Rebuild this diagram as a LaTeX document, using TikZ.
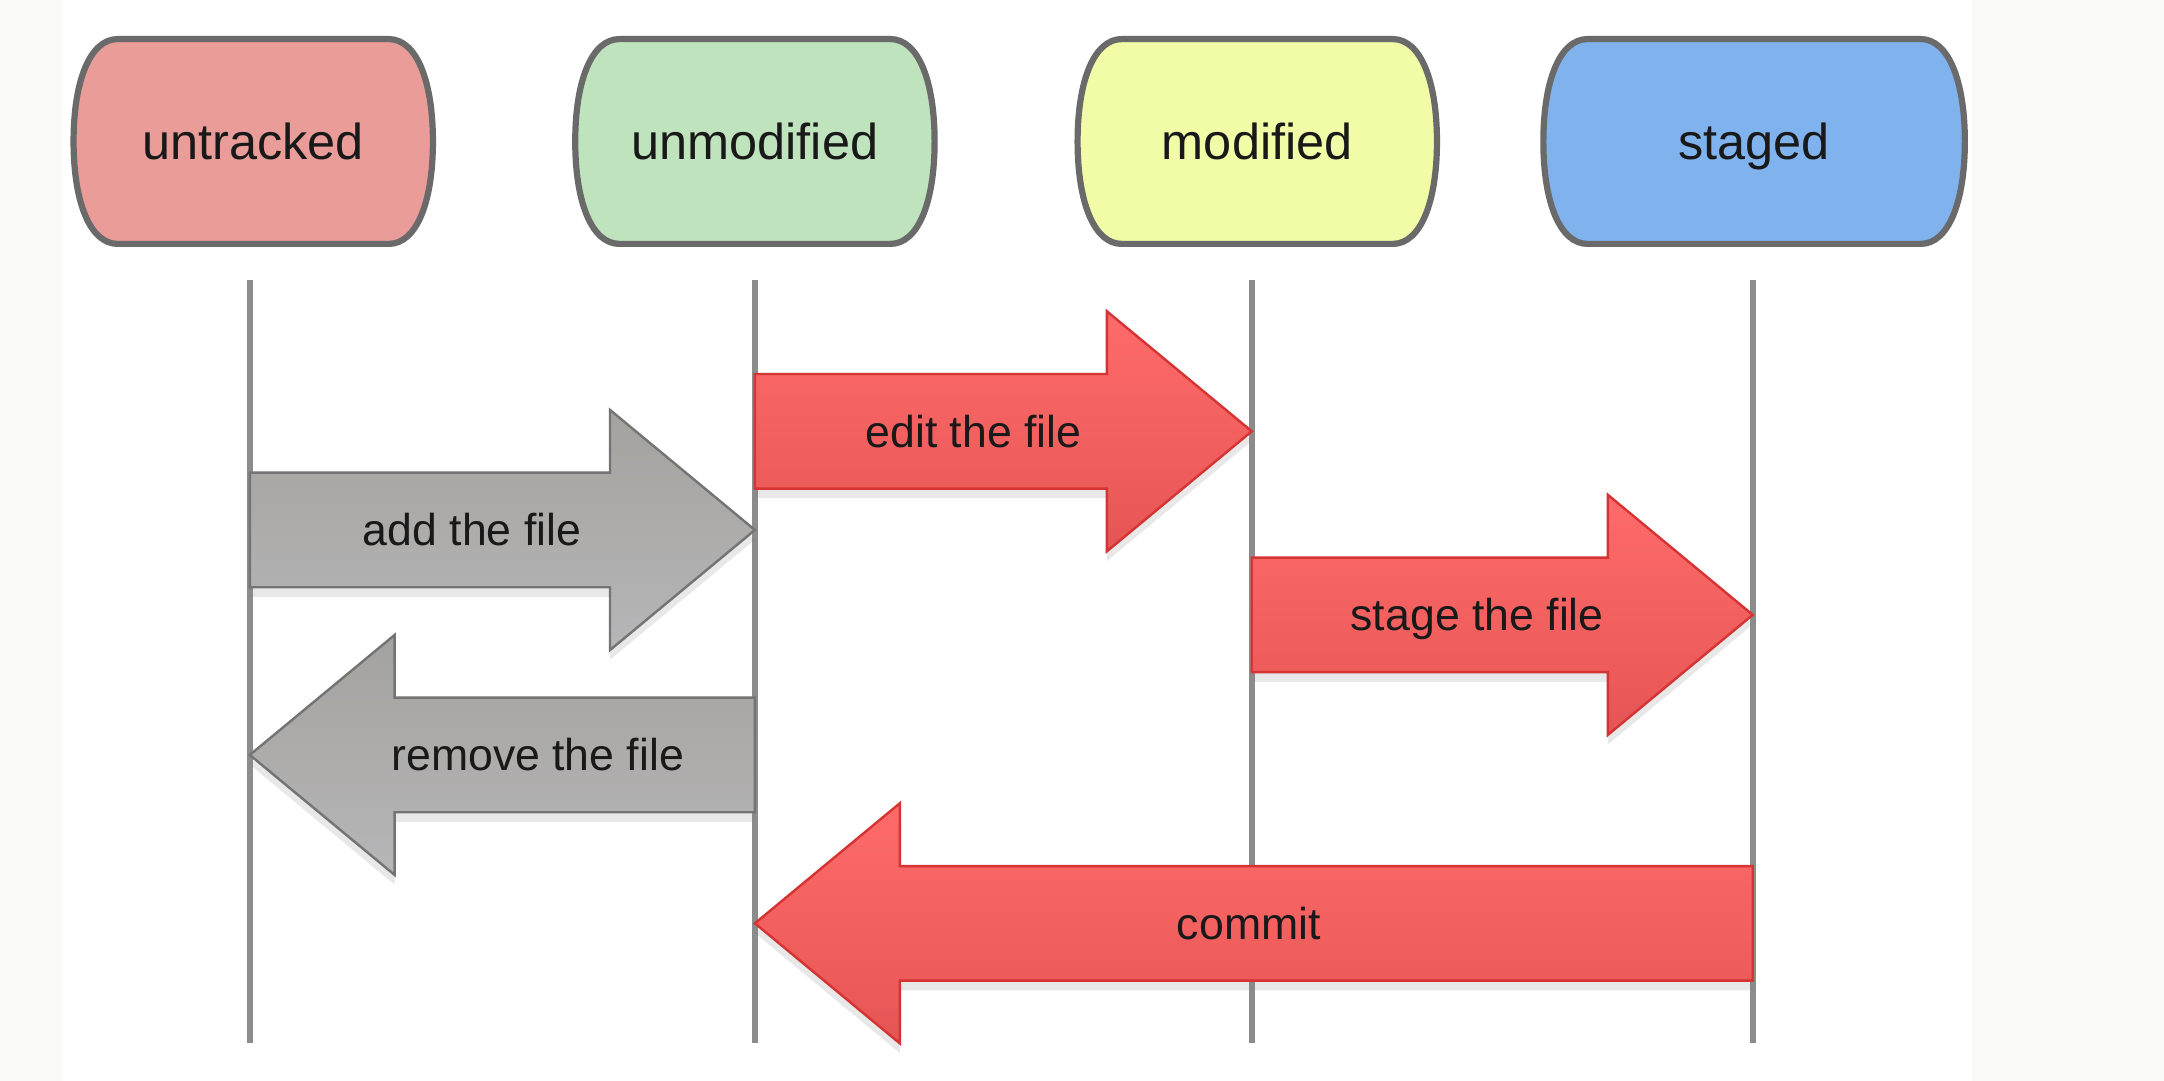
\documentclass[tikz,border=0pt]{standalone}
\usepackage{fontspec}
\setmainfont{Liberation Sans}
\usetikzlibrary{shadows,calc,backgrounds}

\definecolor{offwhite}{HTML}{FAFAF8}
\definecolor{untrackedfill}{HTML}{EA9C99}
\definecolor{unmodifiedfill}{HTML}{BFE3BC}
\definecolor{modifiedfill}{HTML}{F2FBA6}
\definecolor{stagedfill}{HTML}{80B2EE}
\definecolor{stateline}{HTML}{6A6A6A}
\definecolor{lifegray}{HTML}{8C8C8C}
\definecolor{graytop}{HTML}{A3A29E}
\definecolor{graybot}{HTML}{B7B6B8}
\definecolor{grayedge}{HTML}{747474}
\definecolor{redtop}{HTML}{FF6B6B}
\definecolor{redbot}{HTML}{E65555}
\definecolor{rededge}{HTML}{D63333}

% barrel outline round node #1, filled with #2
\newcommand{\stateshape}[2]{%
  \filldraw[stateborder, fill=#2]
    ($(#1.north west)+(32,0)$) -- ($(#1.north east)+(-32,0)$)
    .. controls ($(#1.north east)+(-12,0)$) and ($(#1.north east)+(0,30)$) .. (#1.east)
    .. controls ($(#1.south east)+(0,-30)$) and ($(#1.south east)+(-12,0)$) .. ($(#1.south east)+(-32,0)$)
    -- ($(#1.south west)+(32,0)$)
    .. controls ($(#1.south west)+(12,0)$) and ($(#1.south west)+(0,-30)$) .. (#1.west)
    .. controls ($(#1.north west)+(0,30)$) and ($(#1.north west)+(12,0)$) .. cycle;
}

% fat arrow from tail #2 to tip #3, label #5 at fraction #4
\newcommand{\gitarrow}[5]{%
  \coordinate (hb) at ($(#3)!10.5mm!(#2)$);
  \path[#1] ($(#2)+(0,-41.5)$) -- ($(hb)+(0,-41.5)$) -- ($(hb)+(0,-87)$)
    -- (#3) -- ($(hb)+(0,87)$) -- ($(hb)+(0,41.5)$) -- ($(#2)+(0,41.5)$) -- cycle;
  \node[arrowlabel] at ($(#2)!#4!(#3)$) {#5};
}

\begin{document}
\begin{tikzpicture}[x=0.1mm,y=-0.1mm,
    state/.style={rectangle, minimum height=14.7mm, minimum width=25.9mm,
        text height=7.5pt, text depth=0pt,
        font=\fontsize{10.4}{12}\selectfont, text=black!90},
    stateborder/.style={draw=stateline, line width=0.45mm},
    lifeline/.style={draw=lifegray, line width=0.42mm},
    grayarrow/.style={draw=grayedge, line width=0.5pt, top color=graytop,
        bottom color=graybot,
        drop shadow={opacity=0.18, shadow xshift=0mm, shadow yshift=-0.7mm}},
    redarrow/.style={draw=rededge, line width=0.5pt, top color=redtop,
        bottom color=redbot,
        drop shadow={opacity=0.18, shadow xshift=0mm, shadow yshift=-0.7mm}},
    arrowlabel/.style={font=\fontsize{9.2}{11}\selectfont, text height=6.6pt,
        text depth=0pt, inner sep=0pt, text=black!90}]

% states
\node[state] (untracked) at (183.5,102.5) {untracked};
\node[state] (unmodified) at (547,102.5) {unmodified};
\node[state] (modified) at (911,102.5) {modified};
\node[state, minimum width=30.4mm] (staged) at (1271,102.5) {staged};

\begin{pgfonlayer}{background}
    % canvas
    \fill[offwhite] (0,0) rectangle (1568,783);
    \fill[white] (45,0) rectangle (1429,783);
    \foreach \name/\col in {untracked/untrackedfill, unmodified/unmodifiedfill,
            modified/modifiedfill, staged/stagedfill}
        {\stateshape{\name}{\col}}
\end{pgfonlayer}

% lifelines
\foreach \name/\x in {untracked/181, unmodified/547, modified/907, staged/1270} {
    \coordinate (\name-top) at (\x,203);
    \coordinate (\name-bot) at (\x,756);
    \draw[lifeline] (\name-top) -- (\name-bot);
}

% transitions
\coordinate (add-tail) at (untracked-top |- 0,384);
\coordinate (add-tip) at (unmodified-top |- 0,384);
\gitarrow{grayarrow}{add-tail}{add-tip}{0.44}{add the file}

\coordinate (edit-tail) at (unmodified-top |- 0,312.5);
\coordinate (edit-tip) at (modified-top |- 0,312.5);
\gitarrow{redarrow}{edit-tail}{edit-tip}{0.44}{edit the file}

\coordinate (stage-tail) at (modified-top |- 0,445.5);
\coordinate (stage-tip) at (staged-top |- 0,445.5);
\gitarrow{redarrow}{stage-tail}{stage-tip}{0.45}{stage the file}

\coordinate (remove-tail) at (unmodified-top |- 0,547);
\coordinate (remove-tip) at (untracked-top |- 0,547);
\gitarrow{grayarrow}{remove-tail}{remove-tip}{0.43}{remove the file}

\coordinate (commit-tail) at (staged-top |- 0,669);
\coordinate (commit-tip) at (unmodified-top |- 0,669);
\gitarrow{redarrow}{commit-tail}{commit-tip}{0.505}{commit}

\end{tikzpicture}
\end{document}
